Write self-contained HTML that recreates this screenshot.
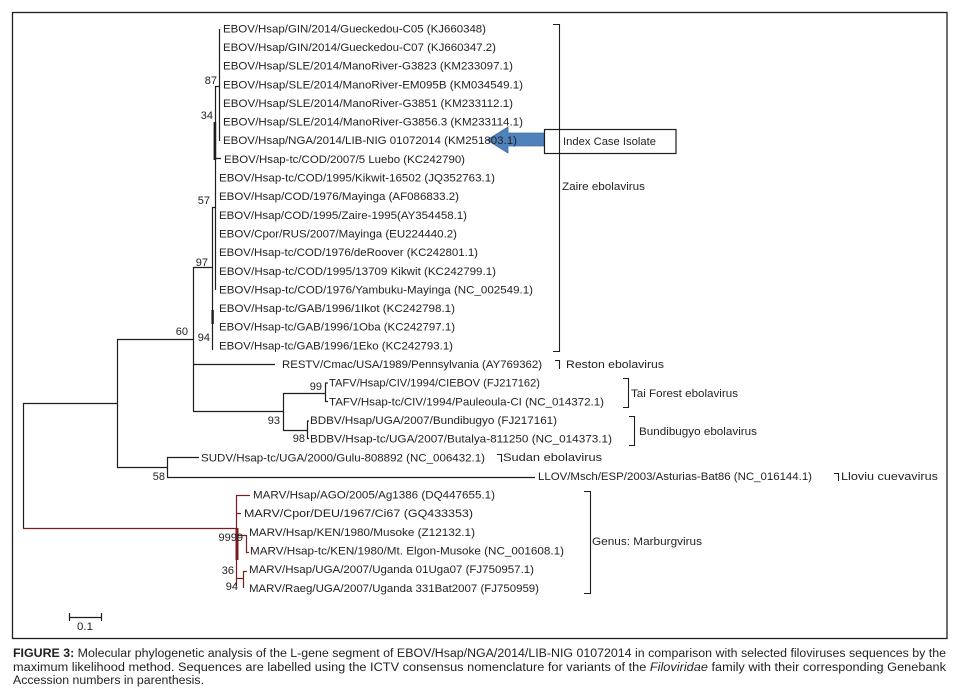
<!DOCTYPE html>
<html>
<head>
<meta charset="utf-8">
<style>
  html,body{margin:0;padding:0;background:#fff;}
  svg{display:block;}
  text{font-family:"Liberation Sans",sans-serif;fill:#231f20;}
</style>
</head>
<body>
<svg width="961" height="698" viewBox="0 0 961 698" xmlns="http://www.w3.org/2000/svg">
  <rect x="0" y="0" width="961" height="698" fill="#fff"/>
  <!-- outer frame -->
  <rect x="12.5" y="12.5" width="934.5" height="626" fill="none" stroke="#231f20" stroke-width="1.3"/>

  <!-- Index case arrow -->
  <polygon points="487,140 508,127 508,133 544,133 544,146 508,146 508,153" fill="#4f81bd" stroke="#41719c" stroke-width="0.8"/>

  <!-- tree lines (black) -->
  <g stroke="#1e1e1e" stroke-width="1.2" fill="none">
    <line x1="23.5" y1="403" x2="23.5" y2="528.5"/>
    <line x1="23" y1="403.5" x2="117.5" y2="403.5"/>
    <line x1="117.5" y1="339" x2="117.5" y2="467.5"/>
    <line x1="117" y1="339.5" x2="193.5" y2="339.5"/>
    <line x1="117" y1="467.5" x2="167.5" y2="467.5"/>
    <line x1="193.5" y1="267" x2="193.5" y2="411.5"/>
    <line x1="193" y1="267.5" x2="212.5" y2="267.5"/>
    <line x1="193" y1="364.5" x2="275" y2="364.5"/>
    <line x1="193" y1="411.5" x2="283.5" y2="411.5"/>
    <line x1="283.5" y1="393" x2="283.5" y2="430.5"/>
    <line x1="283" y1="393.5" x2="325.5" y2="393.5"/>
    <line x1="283" y1="430.5" x2="307.5" y2="430.5"/>
    <line x1="325.5" y1="383" x2="325.5" y2="402"/>
    <line x1="325" y1="383" x2="328" y2="383"/>
    <line x1="325" y1="401.5" x2="328" y2="401.5"/>
    <line x1="307.5" y1="421" x2="307.5" y2="439"/>
    <line x1="307" y1="421" x2="309" y2="421"/>
    <line x1="307" y1="438.5" x2="309" y2="438.5"/>
    <line x1="167.5" y1="457.5" x2="167.5" y2="477.5"/>
    <line x1="167" y1="457.5" x2="199" y2="457.5"/>
    <line x1="167" y1="477.5" x2="535" y2="477.5"/>
    <line x1="219.5" y1="29" x2="219.5" y2="141"/>
    <line x1="215" y1="86.5" x2="219.5" y2="86.5"/>
    <line x1="215.5" y1="86" x2="215.5" y2="290"/>
    <line x1="212.5" y1="207" x2="212.5" y2="350"/>
    <line x1="212" y1="207.5" x2="215.5" y2="207.5"/>
    <line x1="215" y1="158.5" x2="221" y2="158.5"/>
  </g>
  <rect x="213.6" y="122" width="2.6" height="38" fill="#1e1e1e"/>
  <rect x="211.4" y="310" width="2.4" height="14" fill="#1e1e1e"/>

  <!-- Marburg lines (dark red) -->
  <g stroke="#7a1c1c" stroke-width="1.2" fill="none">
    <line x1="23" y1="528.5" x2="236.5" y2="528.5"/>
    <line x1="236.5" y1="495" x2="236.5" y2="586"/>
    <line x1="236" y1="495.5" x2="250" y2="495.5"/>
    <line x1="236" y1="513.5" x2="241" y2="513.5"/>
    <line x1="236" y1="535.5" x2="246.5" y2="535.5"/>
    <line x1="246.5" y1="535" x2="246.5" y2="553"/>
    <line x1="246" y1="552.5" x2="249" y2="552.5"/>
    <line x1="236" y1="578.5" x2="243.5" y2="578.5"/>
    <line x1="243.5" y1="571" x2="243.5" y2="588"/>
    <line x1="243" y1="571.5" x2="247" y2="571.5"/>
  </g>
  <rect x="235.5" y="528" width="3" height="32" fill="#7a1c1c"/>

  <!-- brackets -->
  <g stroke="#1e1e1e" stroke-width="1.1" fill="none">
    <polyline points="553,24.5 559.5,24.5 559.5,351.5 553,351.5"/>
    <polyline points="555,360.5 559.5,360.5 559.5,369"/>
    <polyline points="623,378.5 628.5,378.5 628.5,407.5 623,407.5"/>
    <polyline points="629,416.5 634.5,416.5 634.5,445.5 629,445.5"/>
    <polyline points="497,454.5 501.5,454.5 501.5,462"/>
    <polyline points="834,473.5 838.5,473.5 838.5,481"/>
    <polyline points="584,491.5 590.5,491.5 590.5,593.5 584,593.5"/>
  </g>

  <!-- Index case box -->
  <rect x="544.5" y="129.5" width="131.5" height="24" fill="none" stroke="#1e1e1e" stroke-width="1.2"/>

  <!-- scale bar -->
  <g stroke="#1e1e1e" stroke-width="1.2">
    <line x1="69" y1="617.5" x2="102" y2="617.5"/>
    <line x1="69.5" y1="613" x2="69.5" y2="621"/>
    <line x1="101.5" y1="613" x2="101.5" y2="621"/>
  </g>
  <text x="77" y="630" font-size="11" textLength="16" lengthAdjust="spacingAndGlyphs">0.1</text>

  <!-- leaf labels -->
  <g font-size="11">
    <text x="223" y="32.3" textLength="263" lengthAdjust="spacingAndGlyphs">EBOV/Hsap/GIN/2014/Gueckedou-C05 (KJ660348)</text>
    <text x="223" y="51" textLength="273" lengthAdjust="spacingAndGlyphs">EBOV/Hsap/GIN/2014/Gueckedou-C07 (KJ660347.2)</text>
    <text x="223" y="69.6" textLength="290" lengthAdjust="spacingAndGlyphs">EBOV/Hsap/SLE/2014/ManoRiver-G3823 (KM233097.1)</text>
    <text x="223" y="88.3" textLength="300" lengthAdjust="spacingAndGlyphs">EBOV/Hsap/SLE/2014/ManoRiver-EM095B (KM034549.1)</text>
    <text x="223" y="106.9" textLength="290" lengthAdjust="spacingAndGlyphs">EBOV/Hsap/SLE/2014/ManoRiver-G3851 (KM233112.1)</text>
    <text x="223" y="125.6" textLength="300" lengthAdjust="spacingAndGlyphs">EBOV/Hsap/SLE/2014/ManoRiver-G3856.3 (KM233114.1)</text>
    <text x="223" y="144.2" textLength="294" lengthAdjust="spacingAndGlyphs">EBOV/Hsap/NGA/2014/LIB-NIG 01072014 (KM251803.1)</text>
    <text x="224" y="162.9" textLength="241" lengthAdjust="spacingAndGlyphs">EBOV/Hsap-tc/COD/2007/5 Luebo (KC242790)</text>
    <text x="219" y="181.5" textLength="276" lengthAdjust="spacingAndGlyphs">EBOV/Hsap-tc/COD/1995/Kikwit-16502 (JQ352763.1)</text>
    <text x="219" y="200.2" textLength="240" lengthAdjust="spacingAndGlyphs">EBOV/Hsap/COD/1976/Mayinga (AF086833.2)</text>
    <text x="219" y="218.8" textLength="248" lengthAdjust="spacingAndGlyphs">EBOV/Hsap/COD/1995/Zaire-1995(AY354458.1)</text>
    <text x="219" y="237.5" textLength="238" lengthAdjust="spacingAndGlyphs">EBOV/Cpor/RUS/2007/Mayinga (EU224440.2)</text>
    <text x="219" y="256.1" textLength="259" lengthAdjust="spacingAndGlyphs">EBOV/Hsap-tc/COD/1976/deRoover (KC242801.1)</text>
    <text x="219" y="274.8" textLength="277" lengthAdjust="spacingAndGlyphs">EBOV/Hsap-tc/COD/1995/13709 Kikwit (KC242799.1)</text>
    <text x="219" y="293.4" textLength="314" lengthAdjust="spacingAndGlyphs">EBOV/Hsap-tc/COD/1976/Yambuku-Mayinga (NC_002549.1)</text>
    <text x="219" y="312" textLength="236" lengthAdjust="spacingAndGlyphs">EBOV/Hsap-tc/GAB/1996/1Ikot (KC242798.1)</text>
    <text x="219" y="330.7" textLength="236" lengthAdjust="spacingAndGlyphs">EBOV/Hsap-tc/GAB/1996/1Oba (KC242797.1)</text>
    <text x="219" y="349.4" textLength="234" lengthAdjust="spacingAndGlyphs">EBOV/Hsap-tc/GAB/1996/1Eko (KC242793.1)</text>
    <text x="282" y="368" textLength="260" lengthAdjust="spacingAndGlyphs">RESTV/Cmac/USA/1989/Pennsylvania (AY769362)</text>
    <text x="329" y="386.7" textLength="211" lengthAdjust="spacingAndGlyphs">TAFV/Hsap/CIV/1994/CIEBOV (FJ217162)</text>
    <text x="329" y="405.3" textLength="275" lengthAdjust="spacingAndGlyphs">TAFV/Hsap-tc/CIV/1994/Pauleoula-CI (NC_014372.1)</text>
    <text x="310" y="424" textLength="247" lengthAdjust="spacingAndGlyphs">BDBV/Hsap/UGA/2007/Bundibugyo (FJ217161)</text>
    <text x="310" y="442.6" textLength="302" lengthAdjust="spacingAndGlyphs">BDBV/Hsap-tc/UGA/2007/Butalya-811250 (NC_014373.1)</text>
    <text x="201" y="461.3" textLength="284" lengthAdjust="spacingAndGlyphs">SUDV/Hsap-tc/UGA/2000/Gulu-808892 (NC_006432.1)</text>
    <text x="538" y="479.9" textLength="274" lengthAdjust="spacingAndGlyphs">LLOV/Msch/ESP/2003/Asturias-Bat86 (NC_016144.1)</text>
    <text x="253" y="498.6" textLength="242" lengthAdjust="spacingAndGlyphs">MARV/Hsap/AGO/2005/Ag1386 (DQ447655.1)</text>
    <text x="244" y="517.2" textLength="229" lengthAdjust="spacingAndGlyphs">MARV/Cpor/DEU/1967/Ci67 (GQ433353)</text>
    <text x="249" y="535.9" textLength="226" lengthAdjust="spacingAndGlyphs">MARV/Hsap/KEN/1980/Musoke (Z12132.1)</text>
    <text x="250" y="554.5" textLength="314" lengthAdjust="spacingAndGlyphs">MARV/Hsap-tc/KEN/1980/Mt. Elgon-Musoke (NC_001608.1)</text>
    <text x="249" y="573.2" textLength="285" lengthAdjust="spacingAndGlyphs">MARV/Hsap/UGA/2007/Uganda 01Uga07 (FJ750957.1)</text>
    <text x="249" y="591.8" textLength="290" lengthAdjust="spacingAndGlyphs">MARV/Raeg/UGA/2007/Uganda 331Bat2007 (FJ750959)</text>
  </g>

  <!-- bootstrap values -->
  <g font-size="11" text-anchor="end">
    <text x="217" y="84">87</text>
    <text x="213" y="119">34</text>
    <text x="210" y="204">57</text>
    <text x="208" y="266">97</text>
    <text x="188" y="335">60</text>
    <text x="210" y="341">94</text>
    <text x="322" y="390">99</text>
    <text x="280" y="424">93</text>
    <text x="305" y="442">98</text>
    <text x="165" y="480">58</text>
    <text x="243" y="541">9999</text>
    <text x="234" y="574">36</text>
    <text x="238" y="590">94</text>
  </g>

  <!-- clade labels -->
  <g font-size="11">
    <text x="563" y="145" textLength="93" lengthAdjust="spacingAndGlyphs">Index Case Isolate</text>
    <text x="562" y="190" textLength="83" lengthAdjust="spacingAndGlyphs">Zaire ebolavirus</text>
    <text x="566" y="368" textLength="98" lengthAdjust="spacingAndGlyphs">Reston ebolavirus</text>
    <text x="631" y="397" textLength="107" lengthAdjust="spacingAndGlyphs">Tai Forest ebolavirus</text>
    <text x="639" y="435" textLength="118" lengthAdjust="spacingAndGlyphs">Bundibugyo ebolavirus</text>
    <text x="503" y="461" textLength="99" lengthAdjust="spacingAndGlyphs">Sudan ebolavirus</text>
    <text x="841" y="480" textLength="97" lengthAdjust="spacingAndGlyphs">Lloviu cuevavirus</text>
    <text x="592" y="545" textLength="110" lengthAdjust="spacingAndGlyphs">Genus: Marburgvirus</text>
  </g>

  <!-- caption -->
  <g font-size="11.5">
    <text x="13" y="657" textLength="933" lengthAdjust="spacingAndGlyphs"><tspan font-weight="bold">FIGURE 3:</tspan> Molecular phylogenetic analysis of the L-gene segment of EBOV/Hsap/NGA/2014/LIB-NIG 01072014 in comparison with selected filoviruses sequences by the</text>
    <text x="13" y="671" textLength="933" lengthAdjust="spacingAndGlyphs">maximum likelihood method. Sequences are labelled using the ICTV consensus nomenclature for variants of the <tspan font-style="italic">Filoviridae</tspan> family with their corresponding Genebank</text>
    <text x="13" y="684" textLength="191" lengthAdjust="spacingAndGlyphs">Accession numbers in parenthesis.</text>
  </g>
</svg>
</body>
</html>
